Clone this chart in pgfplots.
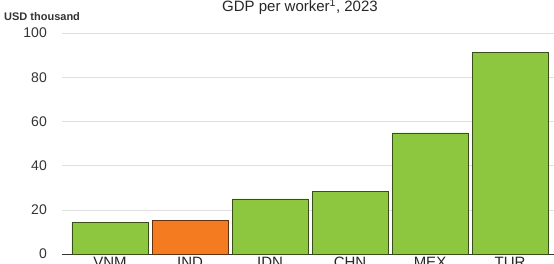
\documentclass[border=0pt]{standalone}
\usepackage{pgfplots}
\pgfplotsset{compat=1.18}
\usepackage{fontspec}
\setmainfont{Liberation Sans}
\definecolor{bargreen}{HTML}{8DC63F}
\definecolor{barorange}{HTML}{F47B20}
\begin{document}
\begin{tikzpicture}
\begin{axis}[
  at={(0pt,0pt)}, anchor=south west,
  scale only axis,
  x=80pt, y=2.21pt,
  xmin=-0.6, xmax=5.56,
  ymin=0, ymax=100,
  axis x line*=bottom,
  axis y line*=left,
  y axis line style={draw=none},
  ytick={0,20,...,100},
  ytick style={draw=none},
  ymajorgrids,
  grid style={gray!25, line width=0.4pt},
  xtick={0,1,2,3,4,5},
  xticklabels={VNM,IND,IDN,CHN,MEX,TUR},
  xtick style={draw=none},
  x axis line style={black!80, line width=0.8pt},
  /pgf/number format/assume math mode=true,
  xticklabel style={font=\fontsize{15}{16}\selectfont, text=black!85, inner sep=0pt, anchor=north, yshift=-3pt},
  yticklabel style={font=\fontsize{14}{15}\selectfont, text=black!80, inner sep=0pt, anchor=east, xshift=-15pt},
  clip=false,
]
\addplot[ybar, bar width=76pt, fill=bargreen, draw=black!60!bargreen, line width=0.5pt]
  coordinates {(0,14.2) (2,24.9) (3,28.5) (4,54.8) (5,91.1)};
\addplot[ybar, bar width=76pt, fill=barorange, draw=black!60!barorange, line width=0.5pt]
  coordinates {(1,15.4)};
\end{axis}
\node[anchor=west, inner sep=0pt, font=\fontsize{11}{12}\selectfont\bfseries, text=black!80] at (-58pt,237pt) {USD thousand};
\node[anchor=base, inner sep=0pt, font=\fontsize{15}{16}\selectfont, text=black!85] at (238pt,242pt) {GDP per worker\textsuperscript{1}, 2023};
\pgfresetboundingbox
\path[use as bounding box] (-62pt,-10pt) rectangle (492pt,254pt);
\end{tikzpicture}
\end{document}
